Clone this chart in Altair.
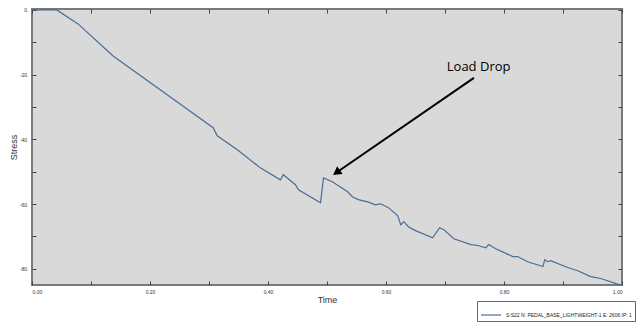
import altair as alt
import pandas as pd

time = [0.0, 0.042, 0.078, 0.1375, 0.307, 0.314, 0.348, 0.387, 0.421, 0.426, 0.4465, 0.4516,
        0.489, 0.494, 0.509, 0.535, 0.543, 0.553, 0.569, 0.582, 0.591, 0.604, 0.620, 0.625,
        0.630, 0.638, 0.650, 0.679, 0.691, 0.698, 0.715, 0.744, 0.756, 0.769, 0.774, 0.786,
        0.815, 0.823, 0.840, 0.866, 0.869, 0.874, 0.879, 0.908, 0.925, 0.947, 0.964, 0.995, 1.0]
stress = [0.0, 0.0, -4.3, -14.2, -36.4, -38.9, -43.2, -48.8, -52.5, -50.9, -54.0, -55.6,
          -59.6, -51.9, -53.1, -56.2, -57.7, -58.6, -59.3, -60.2, -59.9, -61.1, -63.6, -66.4,
          -65.4, -67.0, -68.2, -70.4, -67.3, -67.9, -70.7, -72.5, -72.8, -73.5, -72.5, -73.8,
          -76.2, -76.2, -77.8, -79.3, -77.2, -77.8, -77.5, -79.6, -80.6, -82.4, -83.0, -84.9, -84.9]
series_name = "S:S22 N: PEDAL_BASE_LIGHTWEIGHT-1 E: 2606 IP: 1"

x_ticks = [0.0, 0.1, 0.2, 0.3, 0.4, 0.5, 0.6, 0.7, 0.8, 0.9, 1.0]
y_ticks = [0, -10, -20, -30, -40, -50, -60, -70, -80]

annot_text = "Load Drop"
annot_pos = (0.757, -17.6)
arrow_start = (0.749, -21.0)
arrow_end = (0.518, -50.0)

df = pd.DataFrame({"Time": time, "Stress": stress, "series": series_name})

xs = alt.Scale(domain=[0, 1.0], nice=False, zero=False)
ys = alt.Scale(domain=[-85, 0.3], nice=False, zero=False)

ax_common = dict(tickSize=4, offset=-4, domain=False, tickColor="#444444", labelFontSize=5,
                 labelColor="#333333", grid=False, titleFont="Arial", labelFont="Arial",
                 titleFontWeight="normal", titleColor="#333333", titleFontSize=9)

x_axis = alt.Axis(values=x_ticks, labelExpr="(round(datum.value*10) % 2 == 0) ? format(datum.value, '.2f') : ''",
                  labelPadding=4, titlePadding=1, **ax_common)
y_axis = alt.Axis(values=y_ticks, labelExpr="(datum.value % 20 == 0) ? datum.value + '.' : ''",
                  labelPadding=4, titlePadding=1, **ax_common)

line = alt.Chart(df).mark_line(strokeWidth=1.2).encode(
    x=alt.X("Time:Q", scale=xs, axis=x_axis, title="Time"),
    y=alt.Y("Stress:Q", scale=ys, axis=y_axis, title="Stress"),
    color=alt.Color("series:N", scale=alt.Scale(range=["#4a6d96"]),
                    legend=alt.Legend(title=None, orient="none", legendX=445, legendY=292,
                                      symbolType="stroke", symbolSize=400, symbolStrokeWidth=1.2,
                                      labelFontSize=5, labelFont="Arial", labelColor="#222222",
                                      strokeColor="#666666", padding=3, fillColor="white",
                                      labelLimit=300)),
)

top_right = alt.Chart(df).mark_point(opacity=0).encode(
    x=alt.X("Time:Q", scale=xs, axis=alt.Axis(orient="top", values=x_ticks, labels=False, tickSize=4,
                                              offset=-4, domain=False, tickColor="#444444", title=None, grid=False)),
    y=alt.Y("Stress:Q", scale=ys, axis=alt.Axis(orient="right", values=y_ticks, labels=False, tickSize=4,
                                                offset=-4, domain=False, tickColor="#444444", title=None, grid=False)),
)

arr_df = pd.DataFrame({"x": [arrow_start[0]], "y": [arrow_start[1]],
                       "x2": [arrow_end[0]], "y2": [arrow_end[1]]})
arrow_line = alt.Chart(arr_df).mark_rule(color="black", strokeWidth=2).encode(
    x=alt.X("x:Q", scale=xs, axis=None), y=alt.Y("y:Q", scale=ys, axis=None), x2="x2:Q", y2="y2:Q")
head_df = pd.DataFrame({"x": [arrow_end[0]], "y": [arrow_end[1]]})
arrow_head = alt.Chart(head_df).mark_point(shape="triangle", filled=True, color="black",
                                           size=90, angle=235, opacity=1).encode(
    x=alt.X("x:Q", scale=xs, axis=None), y=alt.Y("y:Q", scale=ys, axis=None))

txt_df = pd.DataFrame({"x": [annot_pos[0]], "y": [annot_pos[1]], "t": [annot_text]})
text = alt.Chart(txt_df).mark_text(font="Open Sans", fontSize=13, color="black").encode(
    x=alt.X("x:Q", scale=xs, axis=None), y=alt.Y("y:Q", scale=ys, axis=None), text="t:N")

chart = alt.layer(line, top_right, arrow_line, arrow_head, text).resolve_axis(
    x="independent", y="independent"
).properties(
    width=590, height=276,
    autosize=alt.AutoSizeParams(type="none"),
    padding={"left": 32, "top": 9, "right": 14, "bottom": 38},
).configure(background="white").configure_view(fill="#d9d9d9", stroke="#7a7a7a", strokeWidth=2)

chart.save("out.html", embed_options={"renderer": "svg", "actions": False})
